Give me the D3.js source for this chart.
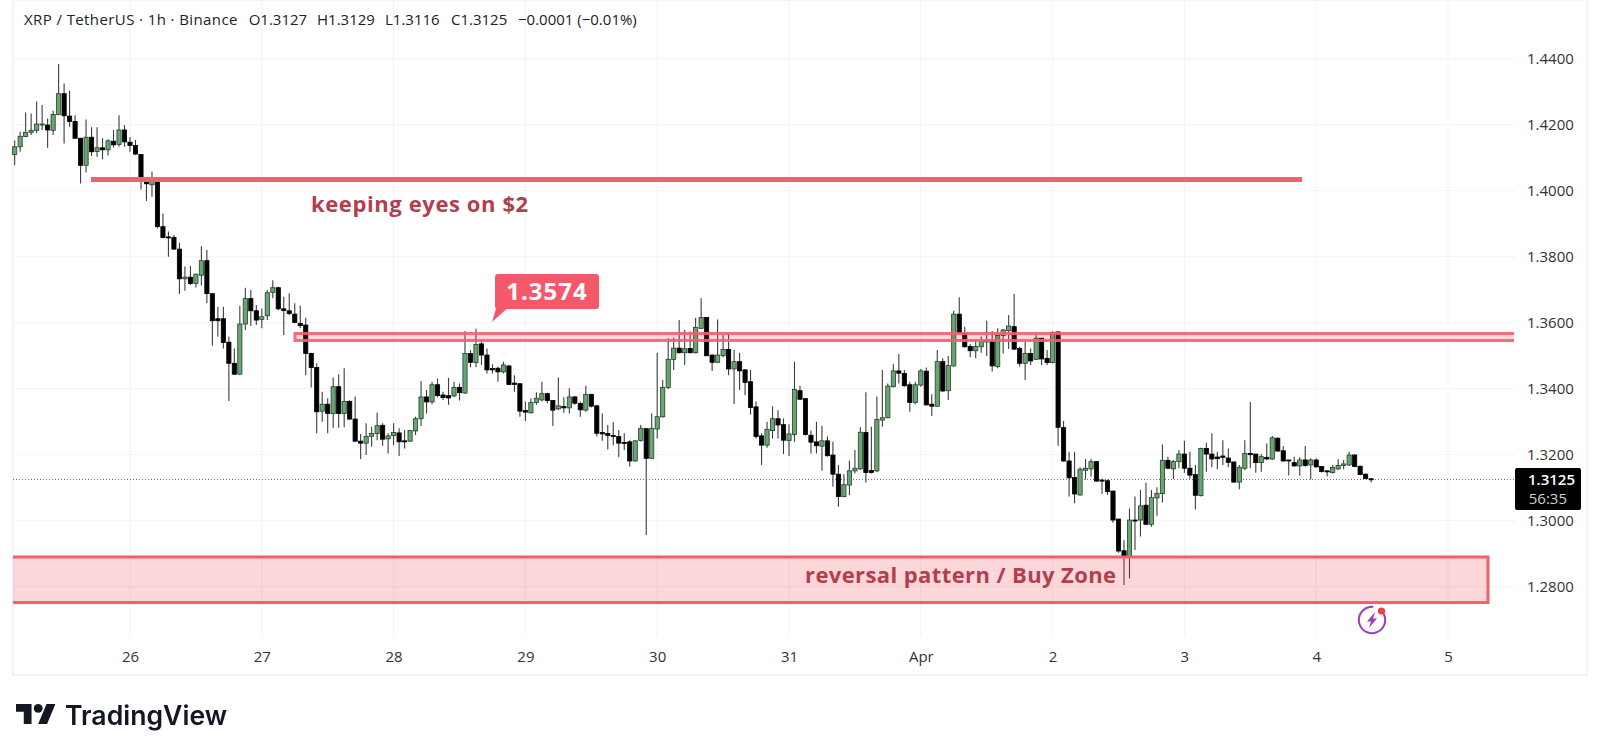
<!DOCTYPE html>
<html><head><meta charset="utf-8">
<script src="https://cdn.jsdelivr.net/npm/d3@7/dist/d3.min.js"></script>
<style>html,body{margin:0;padding:0;background:#fff}svg{display:block;filter:blur(0.4px)}</style>
</head><body><svg id="c" width="1600" height="755"></svg>
<script>
const firstCandle = "2025-03-25T03:00:00Z";
const highs = [1.4152,1.4179,1.4237,1.4234,1.4270,1.4260,1.4219,1.4242,1.4384,1.4325,
1.4303,1.4229,1.4159,1.4216,1.4192,1.4192,1.4159,1.4156,1.4184,1.4229,
1.4199,1.4162,1.4154,1.4111,1.4038,1.4058,1.4032,1.3931,1.3876,1.3866,
1.3842,1.3770,1.3772,1.3749,1.3832,1.3820,1.3688,1.3648,1.3648,1.3558,
1.3522,1.3651,1.3706,1.3699,1.3654,1.3643,1.3699,1.3729,1.3709,1.3679,
1.3689,1.3659,1.3651,1.3615,1.3509,1.3477,1.3391,1.3371,1.3434,1.3444,
1.3462,1.3366,1.3376,1.3263,1.3295,1.3285,1.3328,1.3295,1.3265,1.3295,
1.3280,1.3275,1.3275,1.3315,1.3423,1.3396,1.3421,1.3431,1.3391,1.3433,
1.3421,1.3416,1.3575,1.3517,1.3582,1.3547,1.3522,1.3474,1.3467,1.3482,
1.3472,1.3441,1.3416,1.3361,1.3371,1.3389,1.3421,1.3388,1.3366,1.3434,
1.3374,1.3401,1.3378,1.3361,1.3409,1.3384,1.3351,1.3325,1.3290,1.3298,
1.3275,1.3265,1.3244,1.3244,1.3290,1.3280,1.3325,1.3509,1.3426,1.3553,
1.3555,1.3608,1.3578,1.3573,1.3615,1.3674,1.3616,1.3504,1.3610,1.3563,
1.3568,1.3517,1.3509,1.3460,1.3457,1.3361,1.3265,1.3300,1.3347,1.3335,
1.3310,1.3292,1.3482,1.3409,1.3371,1.3273,1.3300,1.3288,1.3255,1.3239,
1.3169,1.3141,1.3182,1.3214,1.3283,1.3389,1.3285,1.3376,1.3457,1.3416,
1.3474,1.3505,1.3457,1.3421,1.3421,1.3460,1.3464,1.3383,1.3517,1.3492,
1.3499,1.3636,1.3677,1.3588,1.3535,1.3550,1.3558,1.3606,1.3575,1.3583,
1.3581,1.3623,1.3687,1.3527,1.3542,1.3522,1.3568,1.3553,1.3517,1.3573,
1.3573,1.3302,1.3209,1.3209,1.3162,1.3187,1.3187,1.3179,1.3128,1.3125,
1.3090,1.3005,1.2941,1.3037,1.3073,1.3093,1.3115,1.3093,1.3101,1.3231,
1.3194,1.3184,1.3214,1.3242,1.3209,1.3169,1.3221,1.3236,1.3265,1.3209,
1.3244,1.3219,1.3179,1.3169,1.3244,1.3360,1.3202,1.3202,1.3234,1.3257,
1.3253,1.3226,1.3184,1.3194,1.3192,1.3226,1.3189,1.3189,1.3166,1.3152,
1.3169,1.3186,1.3184,1.3209,1.3202,1.3167,1.3143,1.3129];
const opens = [1.4110,1.4133,1.4164,1.4177,1.4183,1.4199,1.4199,1.4183,1.4231,1.4294,
1.4226,1.4210,1.4159,1.4077,1.4162,1.4119,1.4130,1.4124,1.4150,1.4140,
1.4184,1.4147,1.4137,1.4110,1.4036,1.4018,1.4029,1.3891,1.3860,1.3858,
1.3823,1.3733,1.3738,1.3719,1.3744,1.3788,1.3688,1.3612,1.3612,1.3541,
1.3477,1.3444,1.3596,1.3673,1.3636,1.3610,1.3621,1.3692,1.3706,1.3642,
1.3636,1.3626,1.3598,1.3593,1.3507,1.3464,1.3332,1.3353,1.3325,1.3406,
1.3325,1.3361,1.3308,1.3241,1.3235,1.3256,1.3264,1.3289,1.3248,1.3258,
1.3266,1.3242,1.3241,1.3272,1.3309,1.3375,1.3360,1.3412,1.3381,1.3379,
1.3378,1.3404,1.3387,1.3507,1.3479,1.3536,1.3502,1.3461,1.3462,1.3451,
1.3469,1.3417,1.3415,1.3334,1.3327,1.3358,1.3366,1.3385,1.3364,1.3339,
1.3346,1.3342,1.3375,1.3355,1.3335,1.3383,1.3348,1.3267,1.3264,1.3258,
1.3255,1.3237,1.3239,1.3181,1.3243,1.3279,1.3189,1.3278,1.3315,1.3404,
1.3489,1.3523,1.3509,1.3522,1.3509,1.3583,1.3616,1.3502,1.3480,1.3500,
1.3519,1.3460,1.3482,1.3457,1.3421,1.3345,1.3257,1.3229,1.3273,1.3309,
1.3291,1.3243,1.3261,1.3394,1.3370,1.3259,1.3239,1.3226,1.3242,1.3199,
1.3141,1.3073,1.3108,1.3151,1.3157,1.3267,1.3152,1.3151,1.3305,1.3312,
1.3406,1.3454,1.3446,1.3412,1.3358,1.3411,1.3453,1.3353,1.3347,1.3482,
1.3394,1.3469,1.3626,1.3568,1.3528,1.3515,1.3527,1.3545,1.3543,1.3467,
1.3561,1.3576,1.3588,1.3522,1.3477,1.3507,1.3489,1.3553,1.3492,1.3479,
1.3572,1.3282,1.3181,1.3131,1.3078,1.3153,1.3157,1.3179,1.3123,1.3121,
1.3090,1.3005,1.2909,1.2891,1.3002,1.3002,1.3047,1.2989,1.3069,1.3082,
1.3183,1.3157,1.3179,1.3202,1.3159,1.3140,1.3076,1.3219,1.3202,1.3193,
1.3196,1.3190,1.3178,1.3117,1.3159,1.3204,1.3202,1.3176,1.3192,1.3187,
1.3250,1.3212,1.3184,1.3176,1.3166,1.3184,1.3169,1.3184,1.3164,1.3151,
1.3146,1.3157,1.3167,1.3169,1.3199,1.3165,1.3141,1.3127];
const closes = [1.4133,1.4165,1.4177,1.4183,1.4202,1.4202,1.4184,1.4231,1.4294,1.4227,
1.4210,1.4159,1.4077,1.4162,1.4118,1.4130,1.4124,1.4151,1.4139,1.4184,
1.4148,1.4137,1.4111,1.4038,1.4021,1.4028,1.3891,1.3858,1.3858,1.3823,
1.3733,1.3738,1.3719,1.3747,1.3788,1.3688,1.3606,1.3606,1.3540,1.3477,
1.3444,1.3596,1.3673,1.3636,1.3608,1.3618,1.3691,1.3706,1.3642,1.3637,
1.3628,1.3601,1.3591,1.3507,1.3464,1.3330,1.3353,1.3325,1.3406,1.3325,
1.3361,1.3308,1.3241,1.3235,1.3255,1.3264,1.3288,1.3247,1.3257,1.3267,
1.3239,1.3240,1.3273,1.3309,1.3375,1.3360,1.3412,1.3379,1.3373,1.3372,
1.3404,1.3388,1.3507,1.3480,1.3534,1.3502,1.3457,1.3457,1.3451,1.3472,
1.3413,1.3413,1.3332,1.3329,1.3358,1.3371,1.3385,1.3364,1.3335,1.3348,
1.3342,1.3375,1.3356,1.3336,1.3383,1.3347,1.3265,1.3263,1.3258,1.3255,
1.3235,1.3234,1.3181,1.3242,1.3280,1.3189,1.3280,1.3315,1.3404,1.3489,
1.3523,1.3509,1.3521,1.3509,1.3586,1.3616,1.3500,1.3480,1.3502,1.3519,
1.3460,1.3482,1.3454,1.3419,1.3343,1.3255,1.3229,1.3277,1.3309,1.3290,
1.3244,1.3263,1.3398,1.3368,1.3261,1.3238,1.3227,1.3242,1.3197,1.3141,
1.3073,1.3109,1.3151,1.3159,1.3268,1.3146,1.3146,1.3307,1.3312,1.3408,
1.3454,1.3447,1.3409,1.3358,1.3412,1.3454,1.3351,1.3347,1.3482,1.3393,
1.3470,1.3626,1.3568,1.3527,1.3515,1.3528,1.3545,1.3542,1.3469,1.3561,
1.3578,1.3590,1.3520,1.3477,1.3507,1.3484,1.3553,1.3490,1.3479,1.3571,
1.3283,1.3181,1.3130,1.3081,1.3156,1.3159,1.3179,1.3120,1.3120,1.3088,
1.3002,1.2908,1.2891,1.3002,1.2999,1.3045,1.2989,1.3070,1.3083,1.3183,
1.3159,1.3179,1.3202,1.3159,1.3138,1.3077,1.3219,1.3202,1.3187,1.3188,
1.3192,1.3177,1.3117,1.3162,1.3204,1.3200,1.3176,1.3194,1.3187,1.3251,
1.3211,1.3181,1.3182,1.3166,1.3184,1.3167,1.3184,1.3163,1.3149,1.3148,
1.3161,1.3167,1.3172,1.3199,1.3164,1.3140,1.3128,1.3125];
const lows = [1.4077,1.4118,1.4162,1.4169,1.4174,1.4184,1.4130,1.4169,1.4229,1.4143,
1.4194,1.4157,1.4022,1.4055,1.4105,1.4103,1.4095,1.4107,1.4131,1.4133,
1.4133,1.4118,1.4108,1.4004,1.3969,1.3982,1.3886,1.3856,1.3800,1.3820,
1.3687,1.3697,1.3714,1.3707,1.3713,1.3659,1.3530,1.3558,1.3522,1.3363,
1.3442,1.3442,1.3578,1.3590,1.3593,1.3583,1.3608,1.3674,1.3638,1.3563,
1.3623,1.3598,1.3583,1.3441,1.3404,1.3265,1.3300,1.3265,1.3282,1.3282,
1.3283,1.3305,1.3239,1.3187,1.3199,1.3224,1.3244,1.3227,1.3204,1.3229,
1.3196,1.3219,1.3239,1.3260,1.3287,1.3325,1.3353,1.3374,1.3366,1.3351,
1.3374,1.3364,1.3384,1.3465,1.3465,1.3472,1.3446,1.3446,1.3421,1.3446,
1.3411,1.3391,1.3315,1.3302,1.3325,1.3351,1.3361,1.3356,1.3287,1.3335,
1.3327,1.3325,1.3351,1.3315,1.3330,1.3343,1.3255,1.3242,1.3216,1.3229,
1.3192,1.3214,1.3164,1.3179,1.3240,1.2957,1.3188,1.3249,1.3313,1.3398,
1.3457,1.3507,1.3472,1.3507,1.3507,1.3581,1.3498,1.3454,1.3478,1.3495,
1.3441,1.3354,1.3396,1.3381,1.3322,1.3249,1.3169,1.3221,1.3249,1.3249,
1.3202,1.3196,1.3239,1.3366,1.3258,1.3204,1.3204,1.3151,1.3194,1.3103,
1.3042,1.3071,1.3077,1.3143,1.3154,1.3116,1.3143,1.3147,1.3285,1.3310,
1.3404,1.3416,1.3406,1.3330,1.3353,1.3406,1.3348,1.3317,1.3345,1.3391,
1.3366,1.3467,1.3566,1.3525,1.3495,1.3492,1.3509,1.3499,1.3452,1.3462,
1.3507,1.3520,1.3517,1.3467,1.3426,1.3472,1.3487,1.3472,1.3472,1.3477,
1.3227,1.3179,1.3073,1.3053,1.3076,1.3125,1.3133,1.3118,1.3081,1.3078,
1.2994,1.2903,1.2805,1.2825,1.2911,1.2952,1.2987,1.2982,1.3015,1.3055,
1.3156,1.3126,1.3159,1.3145,1.3128,1.3034,1.3073,1.3148,1.3162,1.3156,
1.3169,1.3162,1.3115,1.3095,1.3154,1.3159,1.3145,1.3148,1.3184,1.3184,
1.3209,1.3179,1.3137,1.3164,1.3136,1.3164,1.3125,1.3161,1.3146,1.3135,
1.3143,1.3154,1.3156,1.3166,1.3162,1.3138,1.3126,1.3116];
const priceTicks = [1.28,1.30,1.32,1.34,1.36,1.38,1.40,1.42,1.44];
const dayTicks = ["2025-03-26","2025-03-27","2025-03-28","2025-03-29","2025-03-30","2025-03-31","2025-04-01","2025-04-02","2025-04-03","2025-04-04","2025-04-05"];
const dayLabels = ["26","27","28","29","30","31","Apr","2","3","4","5"];
const titleText = "XRP / TetherUS · 1h · Binance";
const ohlcText = ["O1.3127","H1.3129","L1.3116","C1.3125"];
const changeText = "−0.0001 (−0.01%)";
const lastPrice = 1.3125, countdown = "56:35";
const keepLevel = 1.4034;
const resistanceBand = [1.3567, 1.3546];
const buyZone = [1.2890, 1.2752];
const calloutPrice = "1.3574";

const svg = d3.select("#c");
const font = "'Open Sans','Noto Sans',sans-serif";
const t0 = Date.parse("2025-03-26T00:00:00Z");
const y = d3.scaleLinear().domain([1.28,1.44]).range([586.7,58.7]);
const x = d3.scaleUtc().domain([new Date(t0), new Date(t0+240*3600e3)]).range([130,1448]);
const HOUR = 3600e3, start = Date.parse(firstCandle);
const candles = opens.map((o,i)=>({t:new Date(start+i*HOUR),o,h:highs[i],l:lows[i],c:closes[i]}));
const L=13,R=1587,B=675,PR=1515;

svg.append("clipPath").attr("id","pane").append("rect").attr("x",L).attr("y",0).attr("width",PR-L).attr("height",B);

// frame + grid
svg.append("rect").attr("x",L).attr("y",0).attr("width",R-L).attr("height",B)
  .attr("fill","#fff").attr("stroke","#f0f0f0").attr("stroke-width",1.5);
const grid = svg.append("g").attr("stroke","#f3f3f3").attr("stroke-width",1);
grid.selectAll(".h").data(priceTicks).join("line").attr("x1",L).attr("x2",PR).attr("y1",d=>y(d)).attr("y2",d=>y(d));
grid.selectAll(".v").data(dayTicks).join("line").attr("y1",0).attr("y2",637)
  .attr("x1",d=>x(new Date(d+"T00:00:00Z"))).attr("x2",d=>x(new Date(d+"T00:00:00Z")));

// last price line
svg.append("line").attr("x1",L).attr("x2",PR).attr("y1",y(lastPrice)).attr("y2",y(lastPrice))
  .attr("stroke","#6f6f6f").attr("stroke-width",1).attr("stroke-dasharray","1 2");

// candles
const up = d=>d.c>=d.o;
const g = svg.append("g");
g.selectAll("line.w").data(candles).join("line").attr("class","w")
  .attr("x1",d=>x(d.t)).attr("x2",d=>x(d.t)).attr("y1",d=>y(d.h)).attr("y2",d=>y(d.l))
  .attr("stroke","#3c3c3c").attr("stroke-width",1.1);
g.selectAll("rect.b").data(candles).join("rect").attr("class","b")
  .attr("x",d=>x(d.t)-2.1).attr("width",4.2)
  .attr("y",d=>y(Math.max(d.o,d.c))).attr("height",d=>Math.max(1,Math.abs(y(d.o)-y(d.c))))
  .attr("fill",d=>up(d)?"#67a673":"#000").attr("stroke",d=>up(d)?"#24402a":"#000").attr("stroke-width",0.8);

// drawings
const red="#f0606e";
svg.append("line").attr("x1",91).attr("x2",1302).attr("y1",y(keepLevel)).attr("y2",y(keepLevel))
  .attr("stroke",red).attr("stroke-width",5);
const bandTop=y(resistanceBand[0]), bandBot=y(resistanceBand[1]);
svg.append("rect").attr("x",295).attr("width",1514-295).attr("y",bandTop).attr("height",bandBot-bandTop)
  .attr("fill","rgba(242,54,69,.2)");
svg.append("path").attr("d",d3.line()([[1514,bandTop],[295,bandTop],[295,bandBot],[1514,bandBot]]))
  .attr("fill","none").attr("stroke",red).attr("stroke-width",3).attr("stroke-opacity",.9);
svg.append("g").attr("clip-path","url(#pane)").append("rect").attr("x",6).attr("width",1488-6).attr("y",y(buyZone[0])).attr("height",y(buyZone[1])-y(buyZone[0]))
  .attr("fill","rgba(242,54,69,.2)").attr("stroke",red).attr("stroke-width",3);

const ann = "#b33f4e";
svg.append("text").attr("x",311).attr("y",212).text("keeping eyes on $2")
  .attr("font-family",font).attr("font-weight",700).attr("font-size",22).attr("letter-spacing",.6).attr("fill",ann);
svg.append("text").attr("x",805).attr("y",583).text("reversal pattern / Buy Zone")
  .attr("font-family",font).attr("font-weight",700).attr("font-size",22).attr("letter-spacing",.4).attr("fill",ann);

// callout
const co="#f4596b";
svg.append("path").attr("d","M497 305L492 322L510 306Z").attr("fill",co);
svg.append("rect").attr("x",495).attr("y",274).attr("width",104).attr("height",35).attr("rx",3).attr("fill",co);
svg.append("text").attr("x",547).attr("y",300).attr("text-anchor","middle").text(calloutPrice)
  .attr("font-family",font).attr("font-weight",700).attr("font-size",24).attr("letter-spacing",1).attr("fill","#fff");

// axes
const yAxis = d3.axisRight(y).tickValues(priceTicks).tickSize(0).tickPadding(0).tickFormat(d3.format(".4f"));
const ya = svg.append("g").attr("transform","translate(1527,0)").call(yAxis);
const xAxis = d3.axisBottom(x).tickValues(dayTicks.map(d=>new Date(d+"T00:00:00Z"))).tickSize(0).tickPadding(0).tickFormat((d,i)=>dayLabels[i]);
const xa = svg.append("g").attr("transform","translate(0,648)").call(xAxis);
[ya,xa].forEach(a=>{a.select(".domain").remove();a.selectAll("text").attr("font-family",font).attr("font-size",15).attr("fill","#333")});
xa.selectAll("text").attr("dy","0.9em");

// last price tag
svg.append("rect").attr("x",1515).attr("y",468).attr("width",66).attr("height",42).attr("rx",2).attr("fill","#000");
svg.append("text").attr("x",1575).attr("y",485).attr("text-anchor","end").text(d3.format(".4f")(lastPrice))
  .attr("font-family",font).attr("font-weight",600).attr("font-size",15).attr("fill","#fff");
svg.append("text").attr("x",1567).attr("y",504).attr("text-anchor","end").text(countdown)
  .attr("font-family",font).attr("font-size",15).attr("fill","#d0d0d0");

// header
const hd = svg.append("text").attr("y",25).attr("font-family",font).attr("font-size",15).attr("fill","#222");
hd.append("tspan").attr("x",24).attr("letter-spacing",.4).text(titleText);
[248.7,317,385,451].forEach((px,i)=>hd.append("tspan").attr("x",px).text(ohlcText[i]));
hd.append("tspan").attr("x",518).text(changeText);

// lightning icon
const ic = svg.append("g").attr("transform","translate(1372,620)");
ic.append("path").attr("d",d3.arc()({innerRadius:12.2,outerRadius:14.2,startAngle:.55,endAngle:2*Math.PI+.1})).attr("fill","#9c3fb5");
ic.append("path").attr("d","M3 -8L-5 1.5L-1 1.5L-3 8L5 -1.5L1 -1.5Z").attr("fill","#9c3fb5");
ic.append("circle").attr("cx",9.5).attr("cy",-9).attr("r",3.6).attr("fill","#ef3e46");

// logo
const lg = svg.append("g").attr("transform","translate(16,699.5) scale(1.11)").attr("fill","#131722");
lg.append("path").attr("d","M14 22H7V11H0V4h14v18zM28 22h-8l7.5-18h8L28 22z");
lg.append("circle").attr("cx",20).attr("cy",8).attr("r",4);
svg.append("text").attr("x",65).attr("y",725).text("TradingView").attr("font-family","Inter,Roboto,sans-serif")
  .attr("font-weight",600).attr("font-size",26.6).attr("fill","#131722");
</script></body></html>
